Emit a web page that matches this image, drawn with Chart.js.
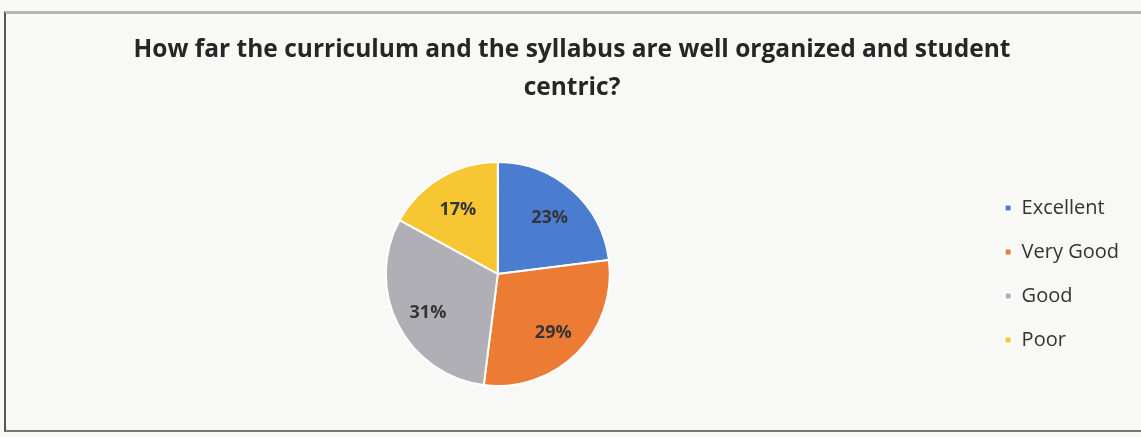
<!DOCTYPE html>
<html>
<head>
<meta charset="utf-8">
<script src="https://cdn.jsdelivr.net/npm/chart.js@4/dist/chart.umd.min.js"></script>
<style>
  html, body { margin: 0; padding: 0; background: #f8f8f6; }
  #wrap { position: relative; width: 1141px; height: 437px; }
  #frame { position: absolute; left: 4px; top: 11px; width: 1137px; height: 421px;
           border-left: 2px solid #555; border-top: 3px solid #b5b5b5; border-bottom: 2px solid #777;
           box-sizing: border-box; pointer-events: none; }
  canvas { position: absolute; left: 0; top: 0; }
</style>
</head>
<body>
<div id="wrap">
  <canvas id="c" width="1141" height="437"></canvas>
  <div id="frame"></div>
</div>
<script>
const categories = ['Excellent', 'Very Good', 'Good', 'Poor'];
const values = [23, 29, 31, 17];
const colors = ['#4a7cd0', '#ec7c33', '#b0afb6', '#f6c633'];
const titleLines = ['How far the curriculum and the syllabus are well organized and student', 'centric?'];

const pctLabels = {
  id: 'pctLabels',
  afterDatasetsDraw(chart) {
    const ctx = chart.ctx;
    const meta = chart.getDatasetMeta(0);
    const total = values.reduce((a, b) => a + b, 0);
    ctx.save();
    ctx.font = 'bold 18px "Open Sans", sans-serif';
    ctx.fillStyle = '#353535';
    ctx.textAlign = 'center';
    ctx.textBaseline = 'middle';
    meta.data.forEach((arc, i) => {
      const p = arc.getProps(['x', 'y', 'startAngle', 'endAngle', 'outerRadius'], true);
      const mid = (p.startAngle + p.endAngle) / 2;
      const r = p.outerRadius * 0.7;
      ctx.fillText(Math.round(values[i] / total * 100) + '%', p.x + Math.cos(mid) * r, p.y + Math.sin(mid) * r + 3);
    });
    ctx.restore();
  }
};

new Chart(document.getElementById('c'), {
  type: 'pie',
  data: {
    labels: categories,
    datasets: [{
      data: values,
      backgroundColor: colors,
      borderColor: '#ffffff',
      borderWidth: 2,
      radius: 112
    }]
  },
  options: {
    responsive: false,
    animation: false,
    layout: { padding: { top: 12, bottom: 16, left: 15, right: 12 } },
    plugins: {
      title: {
        display: true,
        text: titleLines,
        color: '#262626',
        font: { family: '"Open Sans", sans-serif', size: 24.5, weight: 'bold', lineHeight: 1.55 },
        padding: { top: 19, bottom: 20 }
      },
      legend: {
        position: 'right',
        title: {
          display: true,
          text: ' ',
          font: { size: 10, lineHeight: 1 },
          padding: { top: 0, bottom: 105 }
        },
        labels: {
          boxWidth: 7,
          boxHeight: 7,
          color: '#333333',
          padding: 24,
          font: { family: '"Open Sans", sans-serif', size: 20 }
        }
      },
      tooltip: { enabled: false }
    }
  },
  plugins: [pctLabels]
});
</script>
</body>
</html>
